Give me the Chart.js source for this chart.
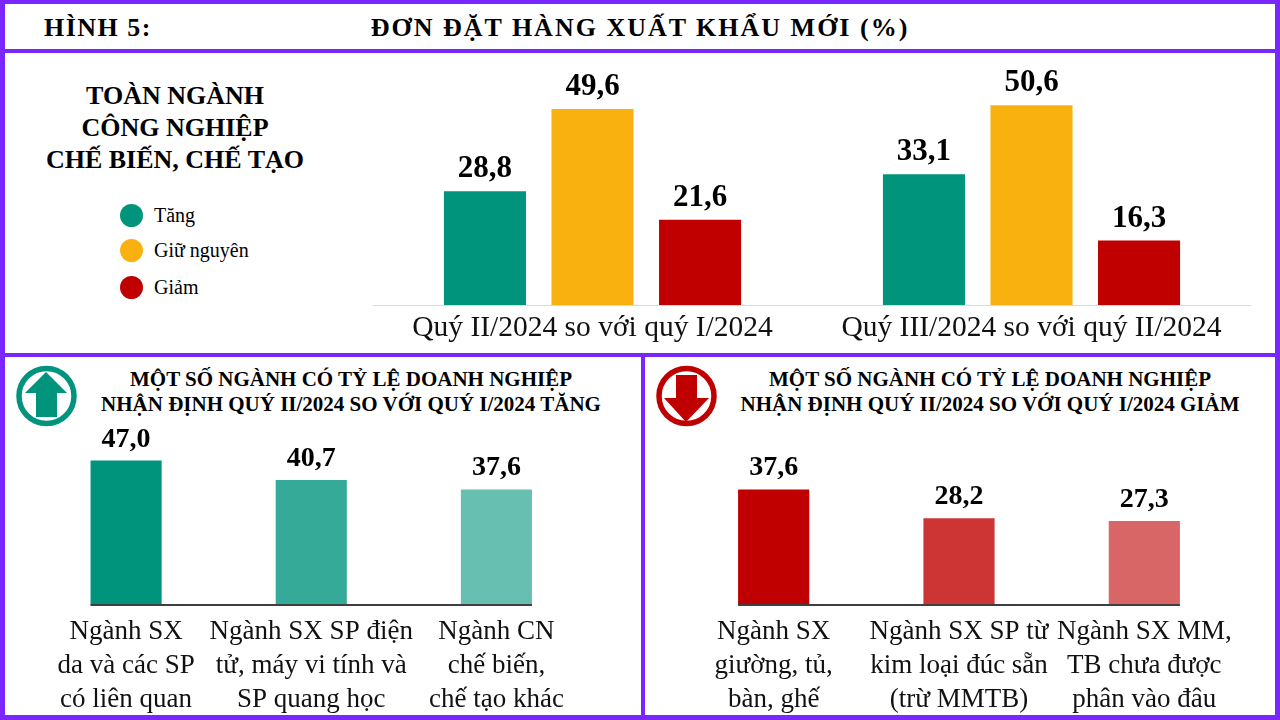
<!DOCTYPE html>
<html lang="vi">
<head>
<meta charset="utf-8">
<title>Hình 5: Đơn đặt hàng xuất khẩu mới (%)</title>
<script src="https://cdn.jsdelivr.net/npm/chart.js@4.4.1/dist/chart.umd.min.js"></script>
<style>
  html, body { margin: 0; padding: 0; background: #fff; }
  body {
    width: 1280px; height: 720px; position: relative; overflow: hidden;
    font-family: "Liberation Serif", "Times New Roman", serif; color: #000;
  }
  .rule { position: absolute; background: #7a26ff; }
  .txt { position: absolute; white-space: nowrap; }
  .bold { font-weight: bold; }
  .chartbox { position: absolute; }
  .legend-row { position: absolute; left: 120px; height: 24px; display: flex; align-items: center; font-size: 20px; }
  .legend-dot { width: 23px; height: 23px; border-radius: 50%; margin-right: 11px; }
</style>
</head>
<body>

<!-- frame -->
<div class="rule" style="left:0;top:0;width:1280px;height:4px"></div>
<div class="rule" style="left:0;top:0;width:5px;height:720px"></div>
<div class="rule" style="left:1275px;top:0;width:5px;height:720px"></div>
<div class="rule" style="left:0;top:715px;width:1280px;height:5px"></div>
<div class="rule" style="left:0;top:49px;width:1280px;height:4px"></div>
<div class="rule" style="left:0;top:353px;width:1280px;height:4px"></div>
<div class="rule" style="left:641px;top:353px;width:4px;height:367px"></div>

<!-- header -->
<div class="txt bold" style="left:44px;top:13px;font-size:26px;line-height:30px;letter-spacing:1.5px">HÌNH 5:</div>
<div class="txt bold" style="left:240px;top:13px;width:800px;text-align:center;font-size:26px;line-height:30px;letter-spacing:2px">ĐƠN ĐẶT HÀNG XUẤT KHẨU MỚI (%)</div>

<!-- top panel: side title + legend -->
<div class="txt bold" style="left:0;top:80px;width:350px;text-align:center;font-size:26px;line-height:32px">TOÀN NGÀNH<br>CÔNG NGHIỆP<br>CHẾ BIẾN, CHẾ TẠO</div>
<div id="legend"></div>

<div class="chartbox" style="left:373px;top:53px;width:878px;height:299px">
  <canvas id="topChart" width="878" height="299"></canvas>
</div>

<!-- bottom left panel -->
<svg class="txt" style="left:14px;top:364px" width="66" height="66" viewBox="0 0 66 66">
  <circle cx="32.5" cy="32" r="27.5" fill="none" stroke="#00947c" stroke-width="5.5"/>
  <polygon points="32,8 53,29 43,29 43,53 22,53 22,29 11,29" fill="#00947c"/>
</svg>
<div class="txt bold" style="left:51px;top:367px;width:600px;text-align:center;font-size:21px;line-height:25px">MỘT SỐ NGÀNH CÓ TỶ LỆ DOANH NGHIỆP<br>NHẬN ĐỊNH QUÝ II/2024 SO VỚI QUÝ I/2024 TĂNG</div>
<div class="chartbox" style="left:5px;top:357px;width:636px;height:358px">
  <canvas id="upChart" width="636" height="358"></canvas>
</div>

<!-- bottom right panel -->
<svg class="txt" style="left:654px;top:364px" width="66" height="66" viewBox="0 0 66 66">
  <circle cx="32.5" cy="32" r="27.5" fill="none" stroke="#c00000" stroke-width="5.5"/>
  <polygon points="22,11 43,11 43,34 55,34 32,58 10,34 22,34" fill="#c00000"/>
</svg>
<div class="txt bold" style="left:690px;top:367px;width:600px;text-align:center;font-size:21px;line-height:25px">MỘT SỐ NGÀNH CÓ TỶ LỆ DOANH NGHIỆP<br>NHẬN ĐỊNH QUÝ II/2024 SO VỚI QUÝ I/2024 GIẢM</div>
<div class="chartbox" style="left:645px;top:357px;width:630px;height:358px">
  <canvas id="downChart" width="630" height="358"></canvas>
</div>

<script>
// ---- data ----
const topCategories = ['Quý II/2024 so với quý I/2024', 'Quý III/2024 so với quý II/2024'];
const seriesNames = ['Tăng', 'Giữ nguyên', 'Giảm'];
const tangValues = [28.8, 33.1];
const giuNguyenValues = [49.6, 50.6];
const giamValues = [21.6, 16.3];

const upCategories = [
  ['Ngành SX', 'da và các SP', 'có liên quan'],
  ['Ngành SX SP điện', 'tử, máy vi tính và', 'SP quang học'],
  ['Ngành CN', 'chế biến,', 'chế tạo khác']
];
const upValues = [47.0, 40.7, 37.6];

const downCategories = [
  ['Ngành SX', 'giường, tủ,', 'bàn, ghế'],
  ['Ngành SX SP từ', 'kim loại đúc sẵn', '(trừ MMTB)'],
  ['Ngành SX MM,', 'TB chưa được', 'phân vào đâu']
];
const downValues = [37.6, 28.2, 27.3];

// ---- colours ----
const seriesColors = ['#00947c', '#f9b10f', '#c00000'];
const upColors = ['#00947c', '#35aa98', '#66bfb1'];
const downColors = ['#c00000', '#cd3434', '#d96666'];

const serif = '"Liberation Serif", "Times New Roman", serif';

// legend (html, left side of top panel)
const legendEl = document.getElementById('legend');
const legendY = [203, 238, 275];
seriesNames.forEach(function(name, i) {
  legendEl.insertAdjacentHTML('beforeend',
    `<div class="legend-row" style="top:${legendY[i]}px">
       <div class="legend-dot" style="background:${seriesColors[i]}"></div>${name}
     </div>`);
});

// value labels above each bar
const valueLabels = {
  id: 'valueLabels',
  afterDatasetsDraw(chart, args, opts) {
    const ctx = chart.ctx;
    ctx.save();
    ctx.font = `bold ${opts.size}px ${serif}`;
    ctx.fillStyle = '#000';
    ctx.textAlign = 'center';
    ctx.textBaseline = 'alphabetic';
    chart.data.datasets.forEach(function(ds, di) {
      chart.getDatasetMeta(di).data.forEach(function(bar, i) {
        const txt = ds.data[i].toFixed(1).replace('.', ',');
        ctx.fillText(txt, bar.x, bar.y - opts.gap);
      });
    });
    ctx.restore();
  }
};

// dark base line spanning only the bars
const barBaseline = {
  id: 'barBaseline',
  afterDatasetsDraw(chart) {
    const bars = chart.getDatasetMeta(0).data;
    if (!bars.length) return;
    const first = bars[0], last = bars[bars.length - 1];
    const y = chart.scales.y.getPixelForValue(0);
    const ctx = chart.ctx;
    ctx.save();
    ctx.strokeStyle = '#3f3f3f';
    ctx.lineWidth = 2;
    ctx.beginPath();
    ctx.moveTo(first.x - first.width / 2, y);
    ctx.lineTo(last.x + last.width / 2, y);
    ctx.stroke();
    ctx.restore();
  }
};

Chart.defaults.font.family = serif;
Chart.defaults.color = '#000';
Chart.defaults.animation = false;

// Top chart: toàn ngành
new Chart(document.getElementById('topChart'), {
  type: 'bar',
  data: {
    labels: topCategories,
    datasets: [
      { label: seriesNames[0], data: tangValues, backgroundColor: seriesColors[0] },
      { label: seriesNames[1], data: giuNguyenValues, backgroundColor: seriesColors[1] },
      { label: seriesNames[2], data: giamValues, backgroundColor: seriesColors[2] }
    ]
  },
  options: {
    responsive: false,
    layout: { padding: { top: 15, left: 0, right: 0, bottom: 0 } },
    categoryPercentage: 0.735,
    barPercentage: 0.763,
    plugins: {
      legend: { display: false },
      tooltip: { enabled: false },
      valueLabels: { size: 31, gap: 14 }
    },
    scales: {
      x: {
        grid: { display: false, drawTicks: false },
        border: { display: true, color: '#d9d9d9', width: 1 },
        ticks: { font: { size: 29.5, lineHeight: 1.2 }, padding: 6, maxRotation: 0, autoSkip: false, color: '#111' },
        afterFit: function(axis) { axis.height = 47; }
      },
      y: { display: false, min: 0, max: 60 }
    }
  },
  plugins: [valueLabels]
});

function makeIndustryChart(id, labels, values, colors, pad) {
  return new Chart(document.getElementById(id), {
    type: 'bar',
    data: {
      labels: labels,
      datasets: [{ data: values, backgroundColor: colors }]
    },
    options: {
      responsive: false,
      layout: { padding: pad },
      categoryPercentage: 1,
      barPercentage: 0.384,
      plugins: {
        legend: { display: false },
        tooltip: { enabled: false },
        valueLabels: { size: 28, gap: 14 }
      },
      scales: {
        x: {
          grid: { display: false, drawTicks: false },
          border: { display: false },
          ticks: { font: { size: 27, lineHeight: 1.26 }, padding: 10, maxRotation: 0, autoSkip: false, color: '#111' },
          afterFit: function(axis) { axis.height = 110; }
        },
        y: { display: false, min: 0, max: 55 }
      }
    },
    plugins: [valueLabels, barBaseline]
  });
}

makeIndustryChart('upChart', upCategories, upValues, upColors, { top: 79, left: 28.5, right: 52, bottom: 0 });
makeIndustryChart('downChart', downCategories, downValues, downColors, { top: 79, left: 36, right: 38, bottom: 0 });
</script>
</body>
</html>
